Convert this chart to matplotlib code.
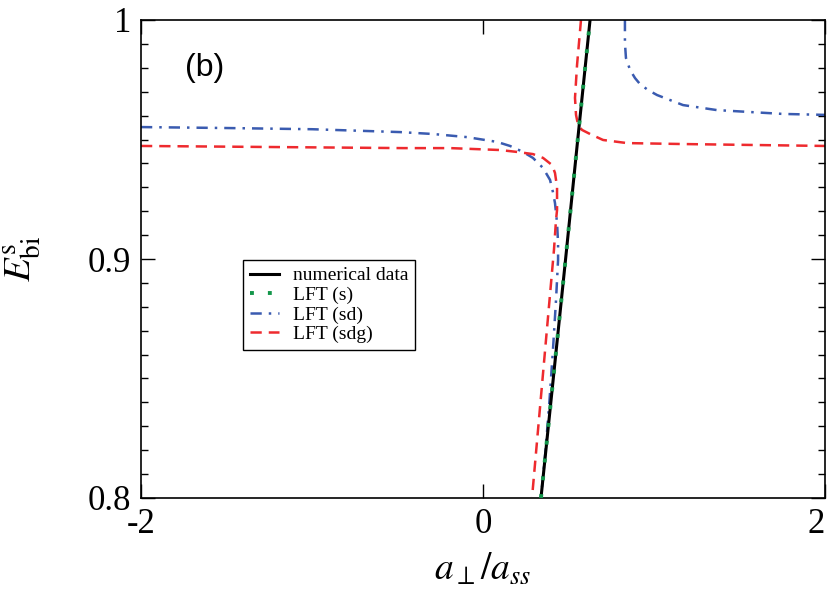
import matplotlib
matplotlib.use("Agg")
import matplotlib.pyplot as plt
from matplotlib.ticker import MultipleLocator

plt.rcParams['font.family'] = ['Liberation Serif', 'DejaVu Serif']
plt.rcParams['mathtext.fontset'] = 'stix'

# numerical data (black solid)
num_x = [0.339, 0.411, 0.483, 0.554, 0.626]
num_y = [0.800, 0.850, 0.900, 0.950, 1.000]

# LFT (s) (green dotted)
s_x = [0.339, 0.411, 0.483, 0.554, 0.626]
s_y = [0.800, 0.850, 0.900, 0.950, 1.000]

# LFT (sd) (blue dash-dot) - lower branch
sd1_x = [-2.0, -1.5, -1.0, -0.485, -0.292, -0.094, 0.082, 0.158, 0.234, 0.292, 0.351,
         0.392, 0.409, 0.421, 0.433, 0.439, 0.439, 0.427, 0.409, 0.389, 0.366, 0.339]
sd1_y = [0.9552, 0.9548, 0.9543, 0.9531, 0.9523, 0.9510, 0.9490, 0.9473, 0.9448, 0.9423, 0.9381,
         0.9331, 0.9280, 0.9234, 0.9151, 0.9067, 0.8996, 0.8828, 0.8619, 0.8410, 0.8201, 0.8000]
# LFT (sd) - upper branch
sd2_x = [0.830, 0.830, 0.836, 0.860, 0.889, 0.918, 0.965, 1.018, 1.094, 1.170,
         1.368, 1.561, 1.754, 2.0]
sd2_y = [1.000, 0.9904, 0.9841, 0.9791, 0.9757, 0.9732, 0.9707, 0.9686, 0.9665, 0.9644,
         0.9623, 0.9615, 0.9607, 0.9603]

# LFT (sdg) (red dashed) - lower branch
sdg1_x = [-2.0, -0.468, -0.193, 0.099, 0.199, 0.292, 0.351, 0.404, 0.421, 0.433,
          0.433, 0.427, 0.415, 0.287]
sdg1_y = [0.9473, 0.9464, 0.9464, 0.9456, 0.9448, 0.9439, 0.9423, 0.9393, 0.9360, 0.9301,
          0.9205, 0.9163, 0.9038, 0.8004]
# LFT (sdg) - upper branch
sdg2_x = [0.573, 0.550, 0.538, 0.544, 0.556, 0.579, 0.626, 0.702, 0.842, 1.170, 2.0]
sdg2_y = [1.000, 0.9812, 0.9674, 0.9603, 0.9561, 0.9540, 0.9523, 0.9498, 0.9485, 0.9481, 0.9473]

x_ticks = [-2, 0, 2]
x_ticklabels = ['-2', '0', '2']
y_ticks = [0.8, 0.9, 1.0]
y_ticklabels = ['0.8', '0.9', '1']

BLUE = '#3a5bb0'
RED = '#ee2a2e'
GREEN = '#13964a'

fig = plt.figure(figsize=(8.3, 6.01), dpi=100)
ax = fig.add_axes([141/830, 1-498/601, 684/830, 478/601])

ax.plot(sd1_x, sd1_y, color=BLUE, lw=1.8, dashes=(4.5, 2.8, 1, 2.8), label='LFT (sd)', zorder=2)
ax.plot(sd2_x, sd2_y, color=BLUE, lw=1.8, dashes=(4.5, 2.8, 1, 2.8), zorder=2)
ax.plot(sdg1_x, sdg1_y, color=RED, lw=1.8, dashes=(4.5, 2.8), label='LFT (sdg)', zorder=2)
ax.plot(sdg2_x, sdg2_y, color=RED, lw=1.8, dashes=(4.5, 2.8), zorder=2)
ax.plot(num_x, num_y, color='black', lw=2.2, label='numerical data', zorder=3)
ax.plot(s_x, s_y, color=GREEN, lw=2.8, dashes=(1, 3.6), dash_capstyle='butt',
        label='LFT (s)', zorder=4)

ax.set_xlim(-2, 2)
ax.set_ylim(0.8, 1.0)
ax.set_xticks(x_ticks)
ax.set_xticklabels(x_ticklabels)
ax.set_yticks(y_ticks)
ax.set_yticklabels(y_ticklabels)
ax.yaxis.set_minor_locator(MultipleLocator(0.01))
ax.get_xticklabels()[-1].set_horizontalalignment('right')

ax.tick_params(which='both', direction='in', top=True, right=True, width=1.0)
ax.tick_params(which='major', length=10, labelsize=25, pad=7)
ax.tick_params(which='minor', length=5)
for sp in ax.spines.values():
    sp.set_linewidth(1.2)

ax.set_xlabel(r'$a_{\perp}/a_{ss}$', fontsize=27, labelpad=8)
ax.set_ylabel(r'$E^{\rm s}_{\rm bi}$', fontsize=28, labelpad=32)

ax.text(-1.743, 0.980, '(b)', fontsize=23, family=['Liberation Sans', 'DejaVu Sans'],
        ha='left', va='center')

handles, labels = ax.get_legend_handles_labels()
order = ['numerical data', 'LFT (s)', 'LFT (sd)', 'LFT (sdg)']
hmap = dict(zip(labels, handles))
leg = ax.legend([hmap[k] for k in order], order, loc='upper left',
                bbox_to_anchor=((243-141)/684, (498-260)/478), borderaxespad=0,
                fancybox=False, framealpha=1, edgecolor='black', fontsize=14,
                handlelength=1.5, handletextpad=0.7, labelspacing=0.1,
                borderpad=0.35)
leg.get_frame().set_linewidth(1.0)

fig.savefig('out.png', dpi=100)
